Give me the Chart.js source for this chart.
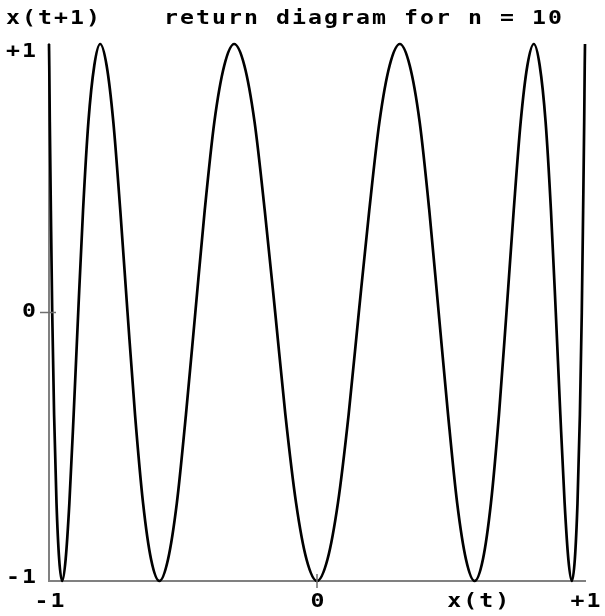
<!DOCTYPE html>
<html>
<head>
<meta charset="utf-8">
<script src="https://cdn.jsdelivr.net/npm/chart.js@4.4.0/dist/chart.umd.min.js"></script>
<style>
  html, body { margin: 0; padding: 0; background: #ffffff; }
  #wrap { width: 605px; height: 616px; }
</style>
</head>
<body>
<div id="wrap"><canvas id="returnChart" width="605" height="616"></canvas></div>
<script>
// x(t) values along the curve, left to right
const xValues = [
    -1, -0.999, -0.997, -0.993, -0.988, -0.981, -0.972, -0.962, -0.951, -0.938,
    -0.924, -0.908, -0.891, -0.873, -0.853, -0.831, -0.809, -0.785, -0.760, -0.734,
    -0.707, -0.679, -0.649, -0.619, -0.588, -0.556, -0.523, -0.489, -0.454, -0.419,
    -0.383, -0.346, -0.309, -0.271, -0.233, -0.195, -0.156, -0.118, -0.078, -0.039,
    0,
    0.039, 0.078, 0.118, 0.156, 0.195, 0.233, 0.271, 0.309, 0.346, 0.383,
    0.419, 0.454, 0.489, 0.523, 0.556, 0.588, 0.619, 0.649, 0.679, 0.707,
    0.734, 0.760, 0.785, 0.809, 0.831, 0.853, 0.873, 0.891, 0.908, 0.924,
    0.938, 0.951, 0.962, 0.972, 0.981, 0.988, 0.993, 0.997, 0.999, 1
];
// x(t+1) at each of those points
const yValues = [
    1, 0.92, 0.71, 0.38, 0, -0.38, -0.71, -0.92, -1, -0.92,
    -0.71, -0.38, 0, 0.38, 0.71, 0.92, 1, 0.92, 0.71, 0.38,
    0, -0.38, -0.71, -0.92, -1, -0.92, -0.71, -0.38, 0, 0.38,
    0.71, 0.92, 1, 0.92, 0.71, 0.38, 0, -0.38, -0.71, -0.92,
    -1,
    -0.92, -0.71, -0.38, 0, 0.38, 0.71, 0.92, 1, 0.92, 0.71,
    0.38, 0, -0.38, -0.71, -0.92, -1, -0.92, -0.71, -0.38, 0,
    0.38, 0.71, 0.92, 1, 0.92, 0.71, 0.38, 0, -0.38, -0.71,
    -0.92, -1, -0.92, -0.71, -0.38, 0, 0.38, 0.71, 0.92, 1
];
const xTicks = [-1, 0, 1];
const xTickLabels = ['-1', '0', '+1'];
const yTicks = [-1, 0, 1];
const yTickLabels = ['-1', '0', '+1'];
const xAxisTitle = 'x(t)';
const yAxisTitle = 'x(t+1)';
const chartTitle = 'return diagram for n = 10';

const points = xValues.map((x, i) => ({ x: x, y: yValues[i] }));

const FONT = 'bold 19px "DejaVu Sans Mono", monospace';
const STEP = 16;

// fixed-pitch text, one widened glyph per cell
function monoText(ctx, str, x, y) {
    for (let i = 0; i < str.length; i++) {
        ctx.save();
        ctx.translate(x + i * STEP, y);
        ctx.scale(1.22, 1);
        ctx.fillText(str[i], 0, 0);
        ctx.restore();
    }
}
function monoWidth(str) {
    return str.length * STEP - 3;
}

const labelsPlugin = {
    id: 'labelsPlugin',
    afterDraw(chart) {
        const ctx = chart.ctx;
        const xs = chart.scales.x;
        const ys = chart.scales.y;
        ctx.save();
        ctx.font = FONT;
        ctx.fillStyle = '#000';
        ctx.textBaseline = 'middle';
        ctx.textAlign = 'left';

        monoText(ctx, yAxisTitle, 6, 19);
        monoText(ctx, chartTitle, 164, 19);

        // y tick labels, right aligned
        const yNudge = { '-1': -3, '0': 0, '1': 8 };
        yTicks.forEach((v, i) => {
            const s = yTickLabels[i];
            const py = ys.getPixelForValue(v) + yNudge[String(v)];
            monoText(ctx, s, 38 - s.length * STEP, py);
        });

        // x tick labels, centred under the value
        const by = chart.chartArea.bottom + 21;
        xTicks.forEach((v, i) => {
            const s = xTickLabels[i];
            const px = xs.getPixelForValue(v);
            monoText(ctx, s, px - monoWidth(s) / 2, by);
        });
        const tx = xs.getPixelForValue(0.6);
        monoText(ctx, xAxisTitle, tx - monoWidth(xAxisTitle) / 2, by);

        // small marks at zero on both axes
        ctx.strokeStyle = '#707070';
        ctx.lineWidth = 1.5;
        const x0 = xs.getPixelForValue(0);
        const y0 = ys.getPixelForValue(0);
        ctx.beginPath();
        ctx.moveTo(x0, chart.chartArea.bottom - 7);
        ctx.lineTo(x0, chart.chartArea.bottom + 7);
        ctx.moveTo(chart.chartArea.left - 9, y0);
        ctx.lineTo(chart.chartArea.left + 7, y0);
        ctx.stroke();
        ctx.restore();
    }
};

function renderReturnChart() {
    const ctx = document.getElementById('returnChart').getContext('2d');
    new Chart(ctx, {
        type: 'line',
        data: {
            datasets: [{
                data: points,
                borderColor: '#000000',
                borderWidth: 2.7,
                pointRadius: 0,
                fill: false,
                cubicInterpolationMode: 'monotone',
                clip: false
            }]
        },
        options: {
            responsive: false,
            animation: false,
            devicePixelRatio: 1,
            layout: { padding: { left: 49, right: 20, top: 44, bottom: 35 } },
            plugins: {
                legend: { display: false },
                tooltip: { enabled: false }
            },
            scales: {
                x: {
                    type: 'linear',
                    min: -1,
                    max: 1,
                    grid: { display: false, drawTicks: false, tickLength: 0 },
                    border: { display: true, color: '#808080', width: 2 },
                    ticks: { display: false }
                },
                y: {
                    type: 'linear',
                    min: -1,
                    max: 1,
                    grid: { display: false, drawTicks: false, tickLength: 0 },
                    border: { display: true, color: '#808080', width: 2 },
                    ticks: { display: false }
                }
            }
        },
        plugins: [labelsPlugin]
    });
}

document.addEventListener('DOMContentLoaded', () => {
    renderReturnChart();
});
</script>
</body>
</html>
